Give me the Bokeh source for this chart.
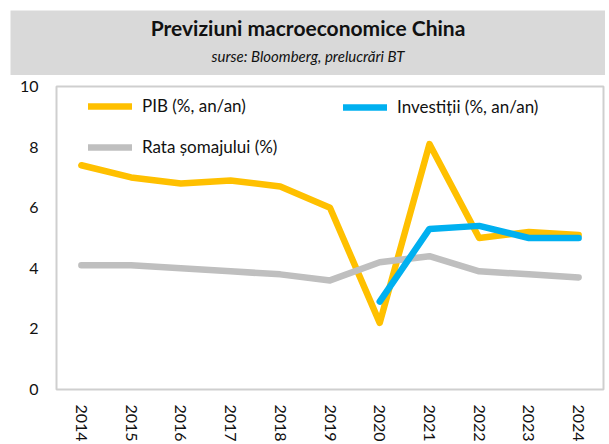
from bokeh.plotting import figure
from bokeh.models import Legend, LegendItem, Range1d, FixedTicker, Spacer
from bokeh.layouts import column, row
from bokeh.embed import file_html
from bokeh.resources import INLINE
from bokeh.core.properties import value

years = ["2014", "2015", "2016", "2017", "2018", "2019", "2020", "2021", "2022", "2023", "2024"]
pib = [7.4, 7.0, 6.8, 6.9, 6.7, 6.0, 2.2, 8.1, 5.0, 5.2, 5.1]
inv_years = ["2020", "2021", "2022", "2023", "2024"]
investitii = [2.9, 5.3, 5.4, 5.0, 5.0]
somaj = [4.1, 4.1, 4.0, 3.9, 3.8, 3.6, 4.2, 4.4, 3.9, 3.8, 3.7]
y_ticks = [0, 2, 4, 6, 8, 10]

title_text = "Previziuni macroeconomice China"
subtitle_text = "surse: Bloomberg, prelucrări BT"
FONT = "Lato"

# Header band
hdr = figure(width=595, height=75, output_backend="svg", toolbar_location=None,
             x_range=Range1d(0, 1), y_range=Range1d(65, 0),
             min_border_left=0, min_border_top=10, min_border_right=0, min_border_bottom=0)
hdr.axis.visible = False
hdr.grid.visible = False
hdr.outline_line_color = None
hdr.background_fill_color = "#D9D9D9"
hdr.border_fill_color = "white"
hdr.text(x=[0.5], y=[17], text=[title_text], text_font=value(FONT), text_font_style="bold",
         text_font_size="21px", text_align="center", text_baseline="middle", text_color="#111111")
hdr.text(x=[0.5], y=[45], text=[subtitle_text], text_font=value(FONT), text_font_style="italic",
         text_font_size="15px", text_align="center", text_baseline="middle", text_color="#111111")

# Main chart
p = figure(width=609, height=369, output_backend="svg", toolbar_location=None,
           x_range=years, y_range=Range1d(0, 10),
           min_border_left=56, min_border_right=6, min_border_top=11, min_border_bottom=55)
p.grid.visible = False
p.outline_line_color = "#CFCFCF"
p.outline_line_width = 2
p.background_fill_color = "white"
p.border_fill_color = "white"

for ax in (p.xaxis[0], p.yaxis[0]):
    ax.axis_line_color = None
    ax.major_tick_line_color = None
    ax.minor_tick_line_color = None
    ax.major_tick_out = 0
    ax.major_tick_in = 0
    ax.major_label_text_font = FONT
    ax.major_label_text_color = "#111111"
    ax.major_label_text_font_size = "16px"
p.yaxis[0].ticker = FixedTicker(ticks=y_ticks)
p.yaxis[0].major_label_standoff = 18
p.xaxis[0].major_label_orientation = "vertical"
p.xaxis[0].major_label_standoff = 15

r_pib = p.line(years, pib, line_color="#FFC000", line_width=6.5, line_cap="round", line_join="round")
r_som = p.line(years, somaj, line_color="#BFBFBF", line_width=6.5, line_cap="round", line_join="round")
r_inv = p.line(inv_years, investitii, line_color="#00B0F0", line_width=6.5, line_cap="round", line_join="round")

def mk_legend(items, loc):
    return Legend(items=items, location=loc, orientation="vertical",
                  glyph_width=44, glyph_height=20, label_height=20, spacing=20,
                  label_standoff=10, padding=0, margin=0,
                  label_text_font=FONT, label_text_font_size="17px", label_text_color="#111111",
                  border_line_color=None, background_fill_alpha=0)

leg1 = mk_legend([LegendItem(label="PIB (%, an/an)", renderers=[r_pib]),
                  LegendItem(label="Rata șomajului (%)", renderers=[r_som])], (32, 232))
leg2 = mk_legend([LegendItem(label="Investiții (%, an/an)", renderers=[r_inv])], (287, 272))
p.add_layout(leg1, "center")
p.add_layout(leg2, "center")

layout = column(row(Spacer(width=10, height=75), hdr, spacing=0), p, spacing=0)
open("out.html", "w").write(file_html(layout, INLINE))
